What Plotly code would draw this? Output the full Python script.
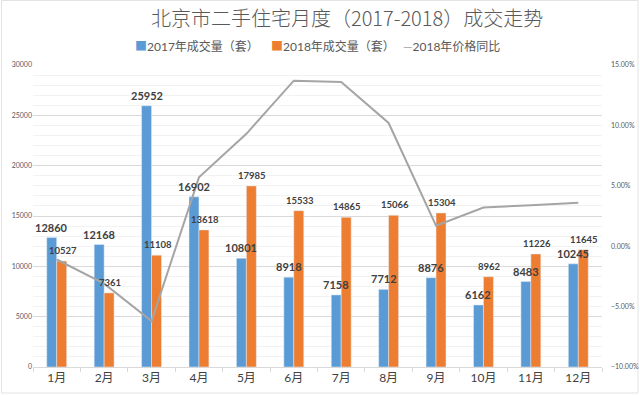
import plotly.graph_objects as go

months = ["1月", "2月", "3月", "4月", "5月", "6月", "7月", "8月", "9月", "10月", "11月", "12月"]
vol_2017 = [12860, 12168, 25952, 16902, 10801, 8918, 7158, 7712, 8876, 6162, 8483, 10245]
vol_2018 = [10527, 7361, 11108, 13618, 17985, 15533, 14865, 15066, 15304, 8962, 11226, 11645]
price_yoy_2018 = [-0.011, -0.031, -0.062, 0.057, 0.093, 0.137, 0.136, 0.102, 0.017, 0.032, 0.034, 0.036]
legend_names = ["2017年成交量（套）", "2018年成交量（套）", "2018年价格同比"]

BLUE = "#5B9BD5"
ORANGE = "#ED7D31"
GRAY = "#A5A5A5"
FONT = "Lato, 'Noto Sans CJK SC', sans-serif"

W, H = 640, 395
ML, MR, MT, MB = 33, 38, 65, 28
PW, PH = W - ML - MR, H - MT - MB


def px_x(px):
    return (px - ML) / PW


def px_y(py):
    return (H - MB - py) / PH


fig = go.Figure()
fig.add_trace(go.Bar(name=legend_names[0], x=months, y=vol_2017, marker_color=BLUE))
fig.add_trace(go.Bar(name=legend_names[1], x=months, y=vol_2018, marker_color=ORANGE))
fig.add_trace(go.Scatter(name=legend_names[2], x=months, y=price_yoy_2018, yaxis="y2",
                         mode="lines", line=dict(color=GRAY, width=2)))

for m, v in zip(months, vol_2017):
    fig.add_annotation(x=m, y=v, xshift=-5, yshift=2, yanchor="bottom", showarrow=False,
                       text=str(v), font=dict(family=FONT, size=11, color="#404040", weight="bold"))
for m, v in zip(months, vol_2018):
    fig.add_annotation(x=m, y=v, xshift=6, yshift=3, yanchor="bottom", showarrow=False,
                       text=str(v), font=dict(family=FONT, size=9.5, color="#404040", weight="bold"))

# custom legend as text
legend_items = [
    (legend_names[0], BLUE, "■", 133),
    (legend_names[1], ORANGE, "■", 269),
    (legend_names[2], GRAY, "—", 401),
]
for name, col, sym, px in legend_items:
    fig.add_annotation(xref="paper", yref="paper", x=px_x(px), y=px_y(46), xanchor="left",
                       yanchor="middle", showarrow=False,
                       text=f"<span style='color:{col}'>{sym}</span>{name}",
                       font=dict(family=FONT, size=12, color="#595959"))

# faint outer border
fig.add_shape(type="rect", xref="paper", yref="paper", x0=px_x(1.5), x1=px_x(638),
              y0=px_y(393), y1=px_y(0.5), line=dict(color="#E3E3E3", width=1), layer="below")

fig.update_layout(
    width=W, height=H,
    margin=dict(l=ML, r=MR, t=MT, b=MB, autoexpand=False),
    paper_bgcolor="white", plot_bgcolor="white",
    font=dict(family=FONT, color="#595959"),
    title=dict(text="北京市二手住宅月度（2017-2018）成交走势", x=0.552, xanchor="center",
               xref="paper", yref="container", y=1 - 19 / 395, yanchor="middle",
               font=dict(family="'Noto Sans CJK SC', sans-serif", size=20, color="#595959",
                         weight=300)),
    barmode="group", bargap=0.58, bargroupgap=0,
    showlegend=False,
    xaxis=dict(showline=True, linecolor="#D9D9D9", ticks="outside", tickson="boundaries",
               ticklen=4, tickcolor="#D9D9D9",
               tickfont=dict(family=FONT, size=12, color="#404040")),
    yaxis=dict(range=[0, 30000], dtick=5000, tickformat="d", gridcolor="#D9D9D9",
               tickfont=dict(size=7, color="#595959"), zeroline=False,
               minor=dict(dtick=1000, showgrid=True, gridcolor="#F2F2F2")),
    yaxis2=dict(overlaying="y", side="right", range=[-0.10, 0.15], dtick=0.05,
                tickformat=".2%", showgrid=False, zeroline=False, ticklabelstandoff=8,
                tickfont=dict(size=7, color="#595959")),
)

fig.write_html("out.html", config={"displayModeBar": False},
               post_script="document.body.style.margin='0';document.body.style.overflow='hidden';")
